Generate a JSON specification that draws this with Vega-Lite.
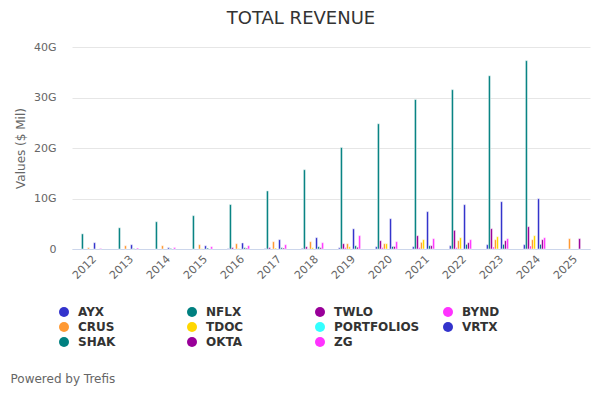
{
  "$schema": "https://vega.github.io/schema/vega-lite/v6.json",
  "autosize": "none",
  "width": 518,
  "height": 202,
  "padding": {"left": 72, "top": 47, "right": 10, "bottom": 151},
  "background": "#ffffff",
  "title": {
    "text": "TOTAL REVENUE",
    "fontSize": 18,
    "font": "DejaVu Sans",
    "fontWeight": "normal",
    "color": "#333333",
    "anchor": "middle",
    "offset": 13,
    "dx": -30
  },
  "config": {
    "view": {"stroke": null},
    "font": "DejaVu Sans"
  },
  "data": {
    "values": [
      {"year": "2012", "company": "NFLX", "value": 3.0},
      {"year": "2012", "company": "CRUS", "value": 0.27},
      {"year": "2012", "company": "VRTX", "value": 1.25},
      {"year": "2012", "company": "ZG", "value": 0.12},
      {"year": "2013", "company": "NFLX", "value": 4.2},
      {"year": "2013", "company": "CRUS", "value": 0.65},
      {"year": "2013", "company": "VRTX", "value": 0.85},
      {"year": "2013", "company": "ZG", "value": 0.2},
      {"year": "2013", "company": "SHAK", "value": 0.08},
      {"year": "2014", "company": "NFLX", "value": 5.4},
      {"year": "2014", "company": "CRUS", "value": 0.65},
      {"year": "2014", "company": "VRTX", "value": 0.27},
      {"year": "2014", "company": "ZG", "value": 0.3},
      {"year": "2014", "company": "SHAK", "value": 0.12},
      {"year": "2015", "company": "NFLX", "value": 6.6},
      {"year": "2015", "company": "CRUS", "value": 0.86},
      {"year": "2015", "company": "VRTX", "value": 0.64},
      {"year": "2015", "company": "ZG", "value": 0.46},
      {"year": "2015", "company": "SHAK", "value": 0.19},
      {"year": "2015", "company": "TDOC", "value": 0.08},
      {"year": "2016", "company": "NFLX", "value": 8.8},
      {"year": "2016", "company": "CRUS", "value": 1.05},
      {"year": "2016", "company": "VRTX", "value": 1.2},
      {"year": "2016", "company": "ZG", "value": 0.65},
      {"year": "2016", "company": "SHAK", "value": 0.27},
      {"year": "2016", "company": "TDOC", "value": 0.12},
      {"year": "2016", "company": "TWLO", "value": 0.28},
      {"year": "2016", "company": "AYX", "value": 0.09},
      {"year": "2016", "company": "OKTA", "value": 0.16},
      {"year": "2017", "company": "NFLX", "value": 11.5},
      {"year": "2017", "company": "CRUS", "value": 1.45},
      {"year": "2017", "company": "VRTX", "value": 1.85},
      {"year": "2017", "company": "ZG", "value": 0.85},
      {"year": "2017", "company": "SHAK", "value": 0.27},
      {"year": "2017", "company": "TDOC", "value": 0.2},
      {"year": "2017", "company": "TWLO", "value": 0.27},
      {"year": "2017", "company": "AYX", "value": 0.1},
      {"year": "2017", "company": "OKTA", "value": 0.2},
      {"year": "2018", "company": "NFLX", "value": 15.7},
      {"year": "2018", "company": "CRUS", "value": 1.45},
      {"year": "2018", "company": "VRTX", "value": 2.25},
      {"year": "2018", "company": "ZG", "value": 1.25},
      {"year": "2018", "company": "SHAK", "value": 0.45},
      {"year": "2018", "company": "TDOC", "value": 0.27},
      {"year": "2018", "company": "TWLO", "value": 0.45},
      {"year": "2018", "company": "AYX", "value": 0.13},
      {"year": "2018", "company": "OKTA", "value": 0.26},
      {"year": "2018", "company": "BYND", "value": 0.05},
      {"year": "2019", "company": "AYX", "value": 0.25},
      {"year": "2019", "company": "NFLX", "value": 20.1},
      {"year": "2019", "company": "TWLO", "value": 1.05},
      {"year": "2019", "company": "BYND", "value": 0.3},
      {"year": "2019", "company": "CRUS", "value": 1.05},
      {"year": "2019", "company": "TDOC", "value": 0.45},
      {"year": "2019", "company": "VRTX", "value": 4.0},
      {"year": "2019", "company": "SHAK", "value": 0.65},
      {"year": "2019", "company": "OKTA", "value": 0.35},
      {"year": "2019", "company": "ZG", "value": 2.65},
      {"year": "2020", "company": "AYX", "value": 0.45},
      {"year": "2020", "company": "NFLX", "value": 24.8},
      {"year": "2020", "company": "TWLO", "value": 1.65},
      {"year": "2020", "company": "BYND", "value": 0.3},
      {"year": "2020", "company": "CRUS", "value": 1.05},
      {"year": "2020", "company": "TDOC", "value": 1.05},
      {"year": "2020", "company": "VRTX", "value": 6.0},
      {"year": "2020", "company": "SHAK", "value": 0.5},
      {"year": "2020", "company": "OKTA", "value": 0.5},
      {"year": "2020", "company": "ZG", "value": 1.45},
      {"year": "2021", "company": "AYX", "value": 0.46},
      {"year": "2021", "company": "NFLX", "value": 29.6},
      {"year": "2021", "company": "TWLO", "value": 2.64},
      {"year": "2021", "company": "BYND", "value": 0.3},
      {"year": "2021", "company": "CRUS", "value": 1.32},
      {"year": "2021", "company": "TDOC", "value": 1.85},
      {"year": "2021", "company": "VRTX", "value": 7.4},
      {"year": "2021", "company": "SHAK", "value": 0.66},
      {"year": "2021", "company": "OKTA", "value": 0.66},
      {"year": "2021", "company": "ZG", "value": 2.05},
      {"year": "2022", "company": "AYX", "value": 0.66},
      {"year": "2022", "company": "NFLX", "value": 31.55},
      {"year": "2022", "company": "TWLO", "value": 3.7},
      {"year": "2022", "company": "BYND", "value": 0.3},
      {"year": "2022", "company": "CRUS", "value": 1.65},
      {"year": "2022", "company": "TDOC", "value": 2.24},
      {"year": "2022", "company": "VRTX", "value": 8.78},
      {"year": "2022", "company": "SHAK", "value": 0.92},
      {"year": "2022", "company": "OKTA", "value": 1.25},
      {"year": "2022", "company": "ZG", "value": 1.85},
      {"year": "2023", "company": "AYX", "value": 0.86},
      {"year": "2023", "company": "NFLX", "value": 34.3},
      {"year": "2023", "company": "TWLO", "value": 4.03},
      {"year": "2023", "company": "BYND", "value": 0.4},
      {"year": "2023", "company": "CRUS", "value": 1.85},
      {"year": "2023", "company": "TDOC", "value": 2.44},
      {"year": "2023", "company": "VRTX", "value": 9.37},
      {"year": "2023", "company": "SHAK", "value": 0.92},
      {"year": "2023", "company": "OKTA", "value": 1.65},
      {"year": "2023", "company": "ZG", "value": 2.05},
      {"year": "2024", "company": "AYX", "value": 0.86},
      {"year": "2024", "company": "NFLX", "value": 37.3},
      {"year": "2024", "company": "TWLO", "value": 4.42},
      {"year": "2024", "company": "BYND", "value": 0.6},
      {"year": "2024", "company": "CRUS", "value": 1.85},
      {"year": "2024", "company": "TDOC", "value": 2.64},
      {"year": "2024", "company": "VRTX", "value": 9.97},
      {"year": "2024", "company": "SHAK", "value": 0.92},
      {"year": "2024", "company": "OKTA", "value": 1.85},
      {"year": "2024", "company": "ZG", "value": 2.24},
      {"year": "2025", "company": "CRUS", "value": 2.05},
      {"year": "2025", "company": "OKTA", "value": 2.05}
    ]
  },
  "mark": {"type": "bar", "stroke": "#ffffff", "strokeWidth": 0.5},
  "encoding": {
    "x": {
      "field": "year",
      "type": "nominal",
      "scale": {
        "domain": ["2012","2013","2014","2015","2016","2017","2018","2019","2020","2021","2022","2023","2024","2025"],
        "paddingInner": 0.4,
        "paddingOuter": 0.2
      },
      "axis": {
        "title": "Powered by Trefis",
        "titleX": -62,
        "titleY": 129,
        "titleAlign": "left",
        "titleAnchor": null,
        "titleBaseline": "middle",
        "titleAngle": 0,
        "titleFontSize": 12,
        "titleFontWeight": "normal",
        "titleColor": "#666666",
        "titleFont": "DejaVu Sans",
        "labelAngle": -45,
        "labelFontSize": 11,
        "labelColor": "#666666",
        "labelPadding": 4,
        "ticks": false,
        "domainColor": "#ccd6eb",
        "domainWidth": 1,
        "grid": false
      }
    },
    "xOffset": {
      "field": "company",
      "type": "nominal",
      "scale": {
        "domain": ["AYX","NFLX","TWLO","BYND","CRUS","TDOC","PORTFOLIOS","VRTX","SHAK","OKTA","ZG"]
      }
    },
    "y": {
      "field": "value",
      "type": "quantitative",
      "scale": {"domain": [0, 40]},
      "axis": {
        "title": "Values ($ Mil)",
        "titleFontSize": 12,
        "titleFontWeight": "normal",
        "titleColor": "#666666",
        "titlePadding": 6,
        "values": [0, 10, 20, 30, 40],
        "labelExpr": "datum.value == 0 ? '0' : datum.value + 'G'",
        "labelFontSize": 11,
        "labelColor": "#666666",
        "labelPadding": 16,
        "ticks": false,
        "domain": false,
        "gridColor": "#e6e6e6",
        "gridWidth": 1
      }
    },
    "color": {
      "field": "company",
      "type": "nominal",
      "scale": {
        "domain": ["AYX","NFLX","TWLO","BYND","CRUS","TDOC","PORTFOLIOS","VRTX","SHAK","OKTA","ZG"],
        "range": ["#3333CC","#008080","#990099","#FF33FF","#FF9933","#FFD700","#33FFFF","#3333CC","#008080","#990099","#FF33FF"]
      },
      "legend": {
        "title": null,
        "orient": "none",
        "legendX": -14,
        "legendY": 259,
        "direction": "horizontal",
        "columns": 4,
        "gridAlign": "all",
        "columnPadding": 22,
        "rowPadding": 3,
        "padding": 0,
        "symbolType": "circle",
        "symbolSize": 100,
        "symbolStrokeWidth": 0,
        "labelFontSize": 12,
        "labelFontWeight": "bold",
        "labelColor": "#333333",
        "labelOffset": 8,
        "labelLimit": 200
      }
    }
  }
}
